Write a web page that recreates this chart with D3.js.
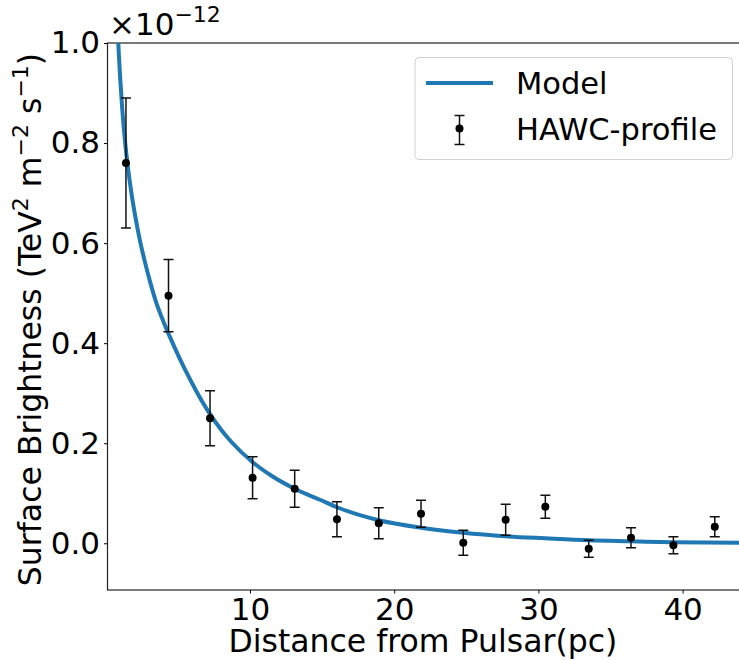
<!DOCTYPE html>
<html>
<head>
<meta charset="utf-8">
<script src="https://cdn.jsdelivr.net/npm/d3@7"></script>
<style>
  body { margin: 0; background: #fff; }
  svg { display: block; font-family: "DejaVu Sans", sans-serif; }
</style>
</head>
<body>
<svg id="chart"></svg>
<script>
// HAWC profile points (x in pc, y in units of 1e-12)
var distance = [1.40, 4.35, 7.23, 10.18, 13.10, 16.03, 18.93, 21.86, 24.79, 27.73, 30.48, 33.49, 36.42, 39.36, 42.23];
var brightness = [0.760, 0.495, 0.250, 0.131, 0.109, 0.048, 0.040, 0.059, 0.001, 0.047, 0.073, -0.011, 0.011, -0.004, 0.033];
var errors = [0.130, 0.072, 0.055, 0.042, 0.037, 0.035, 0.031, 0.027, 0.025, 0.031, 0.023, 0.017, 0.020, 0.017, 0.020];

// model curve
var modelX = [0.60, 0.87, 1.00, 1.15, 1.33, 1.55, 1.80, 2.05, 2.32, 2.70, 3.07, 3.50, 4.00, 4.50, 5.00, 5.50, 6.30, 7.23, 8.00, 8.70, 10.19, 11.60, 13.10, 14.85, 16.03, 18.93, 21.86, 24.77, 27.75, 30.46, 33.51, 36.42, 39.33, 44.00];
var modelY = [1.25, 1.00, 0.930, 0.865, 0.805, 0.748, 0.696, 0.653, 0.612, 0.564, 0.523, 0.481, 0.443, 0.409, 0.377, 0.347, 0.303, 0.258, 0.227, 0.203, 0.162, 0.133, 0.109, 0.087, 0.072, 0.046, 0.031, 0.021, 0.014, 0.010, 0.006, 0.004, 0.002, 0.001];

var yTicks = [0, 0.2, 0.4, 0.6, 0.8, 1.0];
var xTicks = [10, 20, 30, 40];

var svgWidth = 739, svgHeight = 660;
var plotL = 107.5, plotT = 43, plotR = 740.3, plotB = 590;

var svg = d3.select('#chart')
    .attr('width', svgWidth)
    .attr('height', svgHeight);

var xScale = d3.scaleLinear().domain([0.12, 44.0]).range([plotL, plotR]);
var yScale = d3.scaleLinear().domain([-0.0934, 1.0]).range([plotB, plotT]);

svg.append('clipPath').attr('id', 'clip')
    .append('rect')
    .attr('x', plotL).attr('y', plotT)
    .attr('width', plotR - plotL).attr('height', plotB - plotT);

// axes
var xAxis = svg.append('g')
    .attr('transform', 'translate(0,' + plotB + ')')
    .call(d3.axisBottom(xScale).tickValues(xTicks).tickSize(3.5).tickPadding(4).tickSizeOuter(0));
var yAxis = svg.append('g')
    .attr('transform', 'translate(' + plotL + ',0)')
    .call(d3.axisLeft(yScale).tickValues(yTicks).tickFormat(d3.format('.1f')).tickSize(3.5).tickPadding(4).tickSizeOuter(0));

[xAxis, yAxis].forEach(function (g) {
    g.select('.domain').remove();
    g.selectAll('.tick line').attr('stroke', '#000').attr('stroke-width', 1);
    g.selectAll('.tick text')
        .attr('fill', '#000')
        .style('font-size', '31px')
        .style('font-family', '"DejaVu Sans", sans-serif');
});

// spines
svg.append('rect')
    .attr('x', plotL).attr('y', plotT)
    .attr('width', plotR - plotL).attr('height', plotB - plotT)
    .attr('fill', 'none')
    .attr('stroke', '#222')
    .attr('stroke-width', 1.2);

var plot = svg.append('g').attr('clip-path', 'url(#clip)');

// model line
var line = d3.line()
    .x(function (d, i) { return xScale(modelX[i]); })
    .y(function (d) { return yScale(d); })
    .curve(d3.curveMonotoneX);

plot.append('path')
    .datum(modelY)
    .attr('d', line)
    .attr('fill', 'none')
    .attr('stroke', '#1f77b4')
    .attr('stroke-width', 4);

// error bars
var capW = 5;
var bars = plot.selectAll('g.err')
    .data(brightness)
    .enter()
    .append('g')
    .attr('class', 'err');

bars.append('line')
    .attr('x1', function (d, i) { return xScale(distance[i]); })
    .attr('x2', function (d, i) { return xScale(distance[i]); })
    .attr('y1', function (d, i) { return yScale(d + errors[i]); })
    .attr('y2', function (d, i) { return yScale(d - errors[i]); });
bars.append('line')
    .attr('x1', function (d, i) { return xScale(distance[i]) - capW; })
    .attr('x2', function (d, i) { return xScale(distance[i]) + capW; })
    .attr('y1', function (d, i) { return yScale(d + errors[i]); })
    .attr('y2', function (d, i) { return yScale(d + errors[i]); });
bars.append('line')
    .attr('x1', function (d, i) { return xScale(distance[i]) - capW; })
    .attr('x2', function (d, i) { return xScale(distance[i]) + capW; })
    .attr('y1', function (d, i) { return yScale(d - errors[i]); })
    .attr('y2', function (d, i) { return yScale(d - errors[i]); });
bars.selectAll('line').attr('stroke', '#111').attr('stroke-width', 1.5);

bars.append('circle')
    .attr('cx', function (d, i) { return xScale(distance[i]); })
    .attr('cy', function (d) { return yScale(d); })
    .attr('r', 4)
    .attr('fill', '#000');

// offset text
var off = svg.append('text')
    .attr('x', 109).attr('y', 35)
    .style('font-size', '31px');
off.append('tspan').text('×10');
off.append('tspan').attr('dy', -13).style('font-size', '22px').text('−12');

// axis labels
svg.append('text')
    .attr('x', (plotL + plotR) / 2 - 1)
    .attr('y', 652)
    .attr('text-anchor', 'middle')
    .style('font-size', '31.5px')
    .text('Distance from Pulsar(pc)');

var yl = svg.append('text')
    .attr('transform', 'translate(41,' + ((plotT + plotB) / 2 + 3) + ') rotate(-90)')
    .attr('text-anchor', 'middle')
    .style('font-size', '31.5px');
yl.append('tspan').text('Surface Brightness (TeV');
yl.append('tspan').attr('dy', -13).style('font-size', '22px').text('2');
yl.append('tspan').attr('dy', 13).text(' m');
yl.append('tspan').attr('dy', -13).style('font-size', '22px').text('−2');
yl.append('tspan').attr('dy', 13).text(' s');
yl.append('tspan').attr('dy', -13).style('font-size', '22px').text('−1');
yl.append('tspan').attr('dy', 13).text(')');

// legend
var lg = svg.append('g');
lg.append('rect')
    .attr('x', 415).attr('y', 57.5)
    .attr('width', 317.5).attr('height', 102)
    .attr('rx', 4)
    .attr('fill', '#fff')
    .attr('fill-opacity', 0.8)
    .attr('stroke', '#d0d0d0')
    .attr('stroke-width', 1);
lg.append('line')
    .attr('x1', 426).attr('x2', 493)
    .attr('y1', 83).attr('y2', 83)
    .attr('stroke', '#1f77b4').attr('stroke-width', 4);
lg.append('line')
    .attr('x1', 459.5).attr('x2', 459.5).attr('y1', 115.5).attr('y2', 144.5)
    .attr('stroke', '#111').attr('stroke-width', 1.5);
lg.append('line')
    .attr('x1', 454.5).attr('x2', 464.5).attr('y1', 115.5).attr('y2', 115.5)
    .attr('stroke', '#111').attr('stroke-width', 1.5);
lg.append('line')
    .attr('x1', 454.5).attr('x2', 464.5).attr('y1', 144.5).attr('y2', 144.5)
    .attr('stroke', '#111').attr('stroke-width', 1.5);
lg.append('circle').attr('cx', 459.5).attr('cy', 128.5).attr('r', 4).attr('fill', '#000');
lg.append('text').attr('x', 516).attr('y', 94).style('font-size', '30.5px').text('Model');
lg.append('text').attr('x', 516).attr('y', 140).style('font-size', '30.5px').text('HAWC-profile');
</script>
</body>
</html>
